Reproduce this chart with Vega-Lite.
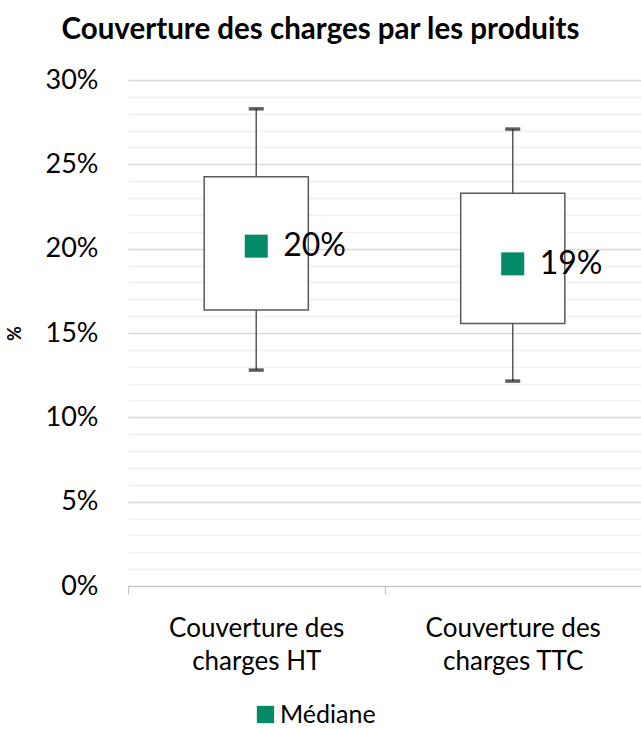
{
  "$schema": "https://vega.github.io/schema/vega-lite/v6.json",
  "autosize": {"type": "none"},
  "padding": {"left": 128, "top": 80, "right": 0, "bottom": 143},
  "width": 513,
  "height": 506,
  "background": "white",
  "config": {
    "view": {"stroke": null},
    "font": "Lato"
  },
  "title": {
    "text": "Couverture des charges par les produits",
    "font": "Lato",
    "fontSize": 29.5,
    "fontWeight": "bold",
    "color": "#000000",
    "anchor": "middle",
    "dx": -64,
    "offset": 21
  },
  "data": {
    "values": [
      {"cat": "Couverture des charges HT", "min": 0.1280, "q1": 0.1636, "median": 0.2015, "q3": 0.2426, "max": 0.2829, "label": "20%"},
      {"cat": "Couverture des charges TTC", "min": 0.1215, "q1": 0.1557, "median": 0.1910, "q3": 0.2328, "max": 0.2709, "label": "19%"}
    ]
  },
  "encoding": {
    "x": {
      "field": "cat",
      "type": "nominal",
      "sort": null,
      "scale": {"paddingInner": 0, "paddingOuter": 0},
      "axis": {
        "title": null,
        "labelAngle": 0,
        "labelFont": "Lato",
        "labelFontSize": 26,
        "labelColor": "#000000",
        "labelLineHeight": 33,
        "labelPadding": 21,
        "labelExpr": "[slice(datum.label, 0, 14), slice(datum.label, 15)]",
        "tickBand": "extent",
        "tickSize": 8,
        "tickColor": "#BFBFBF",
        "domainColor": "#BFBFBF",
        "grid": false
      }
    }
  },
  "layer": [
    {
      "mark": {"type": "rule", "color": "#595959", "strokeWidth": 1.5},
      "encoding": {
        "y": {
          "field": "q3",
          "type": "quantitative",
          "scale": {"domain": [0, 0.3], "nice": false},
          "axis": {
            "title": "%",
            "titleFont": "Lato",
            "titleFontSize": 18,
            "titleFontWeight": "bold",
            "titleColor": "#000000",
            "titleX": -104,
            "tickCount": 40,
            "values": [0,0.01,0.02,0.03,0.04,0.05,0.06,0.07,0.08,0.09,0.10,0.11,0.12,0.13,0.14,0.15,0.16,0.17,0.18,0.19,0.20,0.21,0.22,0.23,0.24,0.25,0.26,0.27,0.28,0.29,0.30],
            "labelExpr": "round(datum.value * 100) % 5 == 0 ? format(datum.value, '.0%') : ''",
            "labelOverlap": false,
            "labelFont": "Lato",
            "labelFontSize": 27,
            "labelColor": "#000000",
            "labelPadding": 30,
            "ticks": false,
            "domain": false,
            "grid": true,
            "gridColor": {"condition": {"test": "round(datum.value * 100) % 5 == 0", "value": "#D9D9D9"}, "value": "#F0F0F0"},
            "gridWidth": 1.5
          }
        },
        "y2": {"field": "max"}
      }
    },
    {
      "mark": {"type": "rule", "color": "#595959", "strokeWidth": 1.5},
      "encoding": {
        "y": {"field": "min", "type": "quantitative"},
        "y2": {"field": "q1"}
      }
    },
    {
      "mark": {"type": "bar", "fill": "white", "stroke": "#595959", "strokeWidth": 1.5, "width": {"band": 0.406}},
      "encoding": {
        "y": {"field": "q1", "type": "quantitative"},
        "y2": {"field": "q3"}
      }
    },
    {
      "mark": {"type": "tick", "color": "#1A1A1A", "thickness": 3.5, "size": 15},
      "encoding": {
        "y": {"field": "max", "type": "quantitative"}
      }
    },
    {
      "mark": {"type": "tick", "color": "#1A1A1A", "thickness": 3.5, "size": 15},
      "encoding": {
        "y": {"field": "min", "type": "quantitative"}
      }
    },
    {
      "mark": {"type": "point", "shape": "square", "filled": true, "opacity": 1, "size": 530},
      "encoding": {
        "y": {"field": "median", "type": "quantitative"},
        "color": {
          "datum": "Médiane",
          "scale": {"range": ["#038A67"]},
          "legend": {
            "title": null,
            "orient": "none",
            "legendX": 125,
            "legendY": 622,
            "symbolType": "square",
            "symbolSize": 300,
            "symbolStrokeWidth": 0,
            "labelFont": "Lato",
            "labelFontSize": 25,
            "labelColor": "#000000",
            "labelOffset": 2
          }
        }
      }
    },
    {
      "mark": {"type": "text", "align": "left", "baseline": "middle", "dx": 27, "fontSize": 32, "font": "Lato", "color": "#000000"},
      "encoding": {
        "y": {"field": "median", "type": "quantitative"},
        "text": {"field": "label"}
      }
    }
  ]
}
